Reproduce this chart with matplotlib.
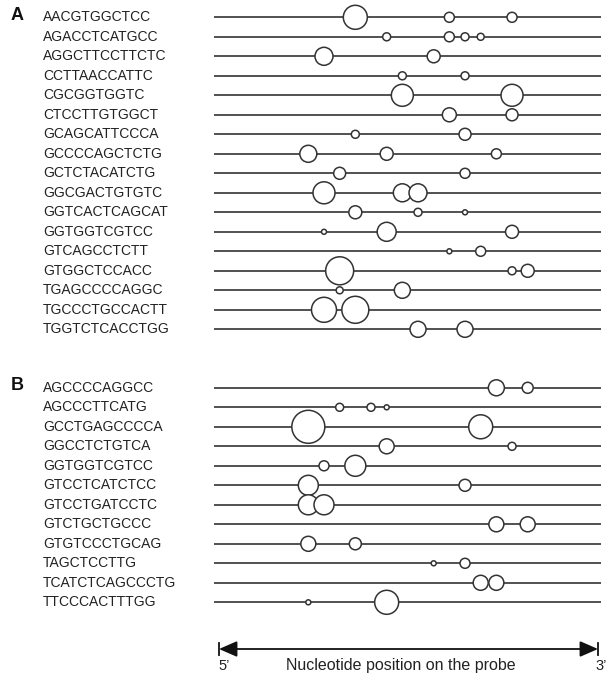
import matplotlib
matplotlib.use("Agg")
import matplotlib.pyplot as plt
from matplotlib.patches import FancyArrowPatch
import matplotlib.transforms as mtransforms

# ---------------- data ----------------
A_labels = ["AACGTGGCTCC", "AGACCTCATGCC", "AGGCTTCCTTCTC", "CCTTAACCATTC",
            "CGCGGTGGTC", "CTCCTTGTGGCT", "GCAGCATTCCCA", "GCCCCAGCTCTG",
            "GCTCTACATCTG", "GGCGACTGTGTC", "GGTCACTCAGCAT", "GGTGGTCGTCC",
            "GTCAGCCTCTT", "GTGGCTCCACC", "TGAGCCCCAGGC", "TGCCCTGCCACTT",
            "TGGTCTCACCTGG"]
A_pos = [[9, 15, 19], [11, 15, 16, 17], [7, 14], [12, 16], [12, 19], [15, 19],
         [9, 16], [6, 11, 18], [8, 16], [7, 12, 13], [9, 13, 16], [7, 11, 19],
         [15, 17], [8, 19, 20], [8, 12], [7, 9], [13, 16]]
A_size = [[24, 10, 10], [8, 10, 8, 7], [18, 13], [8, 8], [22, 22], [14, 12],
          [8, 12], [17, 13, 10], [12, 10], [22, 18, 18], [13, 8, 5], [5, 19, 13],
          [5, 10], [28, 8, 13], [7, 16], [25, 27], [16, 16]]

B_labels = ["AGCCCCAGGCC", "AGCCCTTCATG", "GCCTGAGCCCCA", "GGCCTCTGTCA",
            "GGTGGTCGTCC", "GTCCTCATCTCC", "GTCCTGATCCTC", "GTCTGCTGCCC",
            "GTGTCCCTGCAG", "TAGCTCCTTG", "TCATCTCAGCCCTG", "TTCCCACTTTGG"]
B_pos = [[18, 20], [8, 10, 11], [6, 17], [11, 19], [7, 9], [6, 16], [6, 7],
         [18, 20], [6, 9], [14, 16], [17, 18], [6, 11]]
B_size = [[16, 11], [8, 8, 5], [33, 24], [15, 8], [10, 21], [20, 12], [20, 20],
          [15, 15], [15, 12], [5, 10], [15, 15], [5, 24]]

panel_letters = ["A", "B"]
axis_title = "Nucleotide position on the probe"
end_labels = ["5\u2019", "3\u2019"]

# ---------------- layout ----------------
W, H, DPI = 608, 680, 100
fig = plt.figure(figsize=(W / DPI, H / DPI), dpi=DPI)
ax = fig.add_axes([0, 0, 1, 1])
ax.set_axis_off()

px0, dx = 214.3, 15.67          # pixel x of position 0, pixels per nucleotide
py0, dy = 17.3, 19.5            # pixel y of first row, pixels per row
ax.set_xlim(-px0 / dx, (W - px0) / dx)
ax.set_ylim((H - py0) / dy, -py0 / dy)

LINE_END = 24.7
col = "#333333"
font = ["Liberation Sans", "DejaVu Sans"]
label_tr = mtransforms.blended_transform_factory(fig.transFigure, ax.transData)

def draw_panel(labels, pos, size, row0, letter):
    for i, lab in enumerate(labels):
        y = row0 + i
        ax.plot([0, LINE_END], [y, y], color=col, lw=1.2, zorder=1,
                solid_capstyle="butt")
        ax.text(43 / W, y, lab, transform=label_tr, fontsize=10,
                family=font, va="center", ha="left", color="#222222")
        s = [(d * 0.72) ** 2 for d in size[i]]
        ax.scatter(pos[i], [y] * len(pos[i]), s=s, facecolor="white",
                   edgecolor=col, linewidth=1.1, zorder=3)
    ax.text(11 / W, row0 - 0.1, letter, transform=label_tr, fontsize=13,
            fontweight="bold", family=font, va="center", ha="left",
            color="#111111")

draw_panel(A_labels, A_pos, A_size, 0, panel_letters[0])
draw_panel(B_labels, B_pos, B_size, 19, panel_letters[1])

# bottom arrow
ya = (649 - py0) / dy
xl = (219 - px0) / dx
xr = (598 - px0) / dx
arr = FancyArrowPatch((xl, ya), (xr, ya),
                      arrowstyle="<|-|>,head_length=0.55,head_width=0.24",
                      mutation_scale=20, color="#111111", lw=1.3,
                      shrinkA=0, shrinkB=0)
ax.add_patch(arr)
for xb in (xl, xr):
    ax.plot([xb, xb], [ya - 0.33, ya + 0.33], color="#111111", lw=1.3)

yt = (666 - py0) / dy
ax.text(xl - 0.05, yt, end_labels[0], fontsize=10.5, family=font,
        ha="left", va="center", color="#222222")
ax.text(606.5 / W, yt, end_labels[1], transform=label_tr, fontsize=10.5,
        family=font, ha="right", va="center", color="#222222")
ax.text((401 - px0) / dx, yt, axis_title, fontsize=11.5, family=font,
        ha="center", va="center", color="#222222")

fig.savefig("out.png", dpi=DPI)
